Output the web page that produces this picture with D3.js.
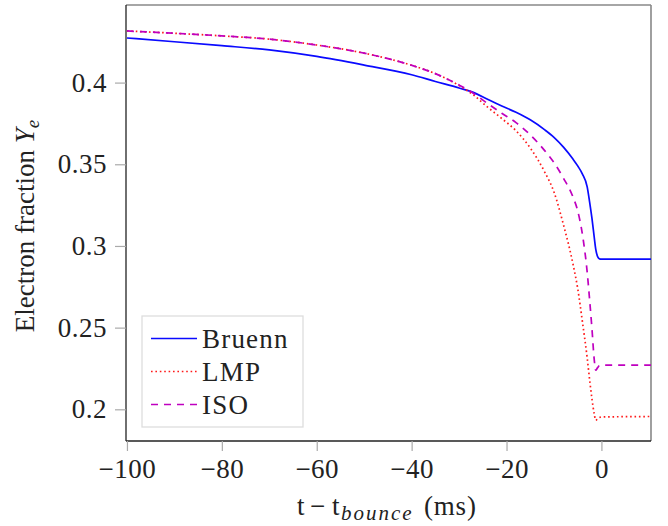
<!DOCTYPE html>
<html>
<head>
<meta charset="utf-8">
<script src="https://cdn.jsdelivr.net/npm/d3@7"></script>
<style>
  body { margin: 0; background: #fff; }
  text { font-family: "Liberation Serif", "DejaVu Serif", serif; fill: #222; }
</style>
</head>
<body>
<script>
// time relative to bounce (ms)
var times = [-100, -90, -80, -70, -60, -50, -40, -35, -30, -27, -24, -21, -18, -15, -12, -10, -8, -6, -5, -4, -3, -2.5, -2, -1.5, -1.2, -0.8, -0.4, 0, 2, 5, 10.5];
var bruenn = [0.4273, 0.4250, 0.4226, 0.4200, 0.4160, 0.4107, 0.4048, 0.4007, 0.3967, 0.3940, 0.3898, 0.3857, 0.3818, 0.3772, 0.3712, 0.3665, 0.3605, 0.3532, 0.3490, 0.3440, 0.3362, 0.3272, 0.3170, 0.3050, 0.2980, 0.2935, 0.2921, 0.2919, 0.2919, 0.2919, 0.2919];
var lmp = [0.4316, 0.4302, 0.4286, 0.4266, 0.4230, 0.4180, 0.4106, 0.4055, 0.3982, 0.3925, 0.3850, 0.3780, 0.3705, 0.3600, 0.3455, 0.3330, 0.3130, 0.2890, 0.2740, 0.2535, 0.2315, 0.2185, 0.2065, 0.1970, 0.1933, 0.1942, 0.1950, 0.1953, 0.1954, 0.1955, 0.1956];
var iso = [0.4316, 0.4302, 0.4286, 0.4266, 0.4230, 0.4180, 0.4106, 0.4055, 0.3985, 0.3935, 0.3872, 0.3812, 0.3755, 0.3680, 0.3585, 0.3510, 0.3415, 0.3300, 0.3215, 0.3070, 0.2840, 0.2675, 0.2495, 0.2300, 0.2239, 0.2255, 0.2268, 0.2270, 0.2270, 0.2270, 0.2270];

var seriesNames = ["Bruenn", "LMP", "ISO"];
var xTicks = [-100, -80, -60, -40, -20, 0];
var yTicks = [0.2, 0.25, 0.3, 0.35, 0.4];

var W = 668, H = 526;
var margin = { top: 5, right: 17, bottom: 85, left: 126 };
var w = W - margin.left - margin.right,
    h = H - margin.top - margin.bottom;

var svg = d3.select("body").append("svg").attr("width", W).attr("height", H);
var g = svg.append("g").attr("transform", "translate(" + [margin.left, margin.top] + ")");

var x = d3.scaleLinear().domain([-100.2, 10.45]).range([0, w]);
var y = d3.scaleLinear().domain([0.1806, 0.4475]).range([h, 0]);

g.append("clipPath").attr("id", "clip").append("rect").attr("width", w).attr("height", h);

// frame: top/right grey, left/bottom dark
g.append("line").attr("x1", 0).attr("x2", w).attr("y1", 0).attr("y2", 0)
  .attr("stroke", "#888").attr("stroke-width", 1.6);
g.append("line").attr("x1", w).attr("x2", w).attr("y1", 0).attr("y2", h)
  .attr("stroke", "#888").attr("stroke-width", 1.6);

var xAxis = g.append("g").attr("transform", "translate(0," + h + ")")
  .call(d3.axisBottom(x).tickValues(xTicks).tickSize(10).tickPadding(8));
var yAxis = g.append("g")
  .call(d3.axisLeft(y).tickValues(yTicks).tickFormat(d => String(d)).tickSize(11).tickPadding(8));

[xAxis, yAxis].forEach(a => {
  a.select(".domain").attr("stroke", "#222").attr("stroke-width", 1.3);
  a.selectAll(".tick line").attr("stroke", "#aaa").attr("stroke-width", 1.2);
  a.selectAll(".tick text").style("font-family", "Liberation Serif, serif")
    .style("font-size", "27px").style("letter-spacing", "0.5px").attr("fill", "#222");
});
xAxis.select(".domain").attr("d", "M0,0H" + w);
yAxis.select(".domain").attr("d", "M0,0V" + h);

var styles = [
  { name: "Bruenn", vals: bruenn, color: "#0a0aff", dash: null, width: 1.7 },
  { name: "LMP", vals: lmp, color: "#ff1a1a", dash: "1.6,2.8", width: 1.7 },
  { name: "ISO", vals: iso, color: "#bf00bf", dash: "7,6", width: 1.7 }
];

var line = d3.line().x(d => x(d[0])).y(d => y(d[1])).curve(d3.curveMonotoneX);

styles.forEach(s => {
  g.append("path")
    .datum(times.map((t, i) => [t, s.vals[i]]))
    .attr("clip-path", "url(#clip)")
    .attr("d", line)
    .attr("fill", "none")
    .attr("stroke", s.color)
    .attr("stroke-width", s.width)
    .attr("stroke-dasharray", s.dash);
});

// legend
var lg = svg.append("g").attr("transform", "translate(142,316)");
lg.append("rect").attr("width", 161).attr("height", 111)
  .attr("fill", "#fff").attr("stroke", "#ddd").attr("stroke-width", 1.3);
styles.forEach((s, i) => {
  var yy = 22.5 + i * 33;
  lg.append("line").attr("x1", 9).attr("x2", 55).attr("y1", yy).attr("y2", yy)
    .attr("stroke", s.color).attr("stroke-width", 1.5).attr("stroke-dasharray", s.dash);
  lg.append("text").attr("x", 60).attr("y", yy + 9.5).style("font-size", "27px")
    .style("letter-spacing", "1.2px").text(seriesNames[i]);
});

// axis labels
var xl = svg.append("text").attr("y", 515).style("font-size", "27px");
xl.append("tspan").attr("x", 297).text("t");
xl.append("tspan").attr("x", 310).text("\u2212");
xl.append("tspan").attr("x", 332).text("t");
xl.append("tspan").attr("x", 341).attr("dy", 5).style("font-size", "21px")
  .style("font-style", "italic").style("letter-spacing", "2px").text("bounce");
xl.append("tspan").attr("x", 424).attr("dy", -5).style("letter-spacing", "0.8px").text("(ms)");

var yl = svg.append("text").attr("transform", "translate(34,226) rotate(-90)")
  .attr("text-anchor", "middle").style("font-size", "27px");
yl.append("tspan").text("Electron fraction ");
yl.append("tspan").style("font-style", "italic").text("Y");
yl.append("tspan").attr("dy", 5).style("font-size", "19px").style("font-style", "italic").text("e");
</script>
</body>
</html>
